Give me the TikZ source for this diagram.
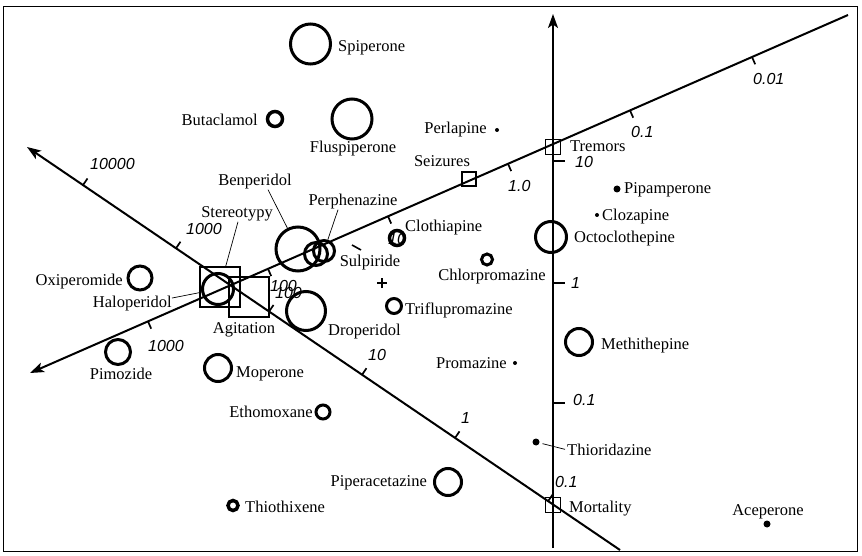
\documentclass[tikz,border=0pt]{standalone}
\usepackage{fontspec}
\setmainfont{Liberation Serif}
\setsansfont{Liberation Sans}
\usetikzlibrary{arrows.meta}
\newcommand\lblfont{\fontsize{16.5}{18}\selectfont}
\newcommand\numfont{\sffamily\itshape\fontsize{16}{18}\selectfont}

\tikzset{
  axisline/.style={line width=2pt},
  axtip/.style={-{Stealth[length=14pt,width=10pt,inset=3.5pt]}},
  tickmark/.style={line width=1.7pt},
  mol/.style={circle,draw,line width=3pt,inner sep=0pt,minimum size=#1},
  thickmol/.style={mol=#1,line width=3.5pt},
  dotmark/.style={circle,fill,inner sep=0pt,minimum size=#1},
  effect/.style={rectangle,draw,line width=1.4pt,inner sep=0pt,minimum size=#1},
  lbl/.style={font=\lblfont,inner sep=0pt,anchor=base west},
  lble/.style={lbl,anchor=base east},
  lblc/.style={lbl,anchor=base},
  num/.style={font=\numfont,inner sep=0pt,anchor=base west},
  leader/.style={line width=0.7pt},
}

\begin{document}
\begin{tikzpicture}[x=1pt,y=-1pt]
\useasboundingbox (0,0) rectangle (862,556);
\fill[white] (0,0) rectangle (862,556);

% frame
\draw[line width=1.6pt] (3.5,6.5) rectangle (857.5,551.5);

% ---------------- axes ----------------
\coordinate (vbot) at (553,548);
\coordinate (vtop) at (553,14);
\coordinate (aend) at (848,15);
\coordinate (atip) at (30,373);
\coordinate (dend) at (620,550);
\coordinate (dtip) at (27,147);

\draw[axisline,axtip] (vbot) -- (vtop);
\draw[axisline,axtip] (aend) -- (atip);
\draw[axisline,axtip] (dend) -- (dtip);

% ticks on the vertical axis
\foreach \y in {161,283,403} \draw[tickmark] (553,\y) -- (565,\y);
\node[num] (v10) at (575,168) {10};
\node[num] (v1) at (571,288) {1};
\node[num] (v01) at (573,405) {0.1};

% ticks on the rising axis
\foreach \x/\y in {752/57.0,630/110.4,508/163.8,388/216.3,268/268.8,148/321.4}
  \draw[tickmark] (\x,\y) -- ++(3.2,7.3);
\node[num] (a001) at (753,85) {0.01};
\node[num] (a01) at (631,138) {0.1};
\node[num] (a1) at (508,192) {1.0};
\node[num] (a100) at (270,291) {100};
\node[num] (a1000) at (148,351) {1000};

% ticks on the falling axis
\foreach \x/\y in {83/185.1,176/248.3,269/311.6,362/374.8,455/438.0,548/501.3}
  \draw[tickmark] (\x,\y) -- ++(4.5,-6.6);
\node[num] (d10000) at (90,170) {10000};
\node[num] (d1000) at (186,234) {1000};
\node[num] (d100) at (275,298) {100};
\node[num] (d10) at (368,360) {10};
\node[num] (d1) at (461,423) {1};
\node[num] (d01) at (555,487) {0.1};

% centre of the plot
\coordinate (origin) at (382,283);
\draw[line width=1.2pt] ([xshift=-5pt]origin) -- ([xshift=5pt]origin);
\draw[line width=1.2pt] ([yshift=-5pt]origin) -- ([yshift=5pt]origin);

% ---------------- side effects ----------------
\node[effect=14pt] (seizures) at (469,179) {};
\node[effect=15pt] (tremors) at (553,147) {};
\node[effect=15pt] (mortality) at (553,505) {};
\node[effect=40pt] (stereotypy) at (220,287) {};
\node[effect=40pt] (agitation) at (249,297) {};

\node[lblc] (lbSeiz) at (442,167) {Seizures};
\node[lbl] (lbTrem) at (570,152) {Tremors};
\node[lbl] (lbMort) at (569,512) {Mortality};
\node[lblc] (lbStereo) at (237,218) {Stereotypy};
\node[lblc] (lbAgit) at (244,333) {Agitation};
\draw[leader] ([xshift=1pt]lbStereo.south) -- (stereotypy);

% ---------------- drugs ----------------
\node[mol=40pt] (spiperone) at (310.5,44) {};
\node[lbl] (lbSpip) at (338,52) {Spiperone};

\node[thickmol=15pt] (butaclamol) at (275,119) {};
\node[lble] (lbButa) at (258,126) {Butaclamol};

\node[mol=40pt] (fluspiperone) at (352,119) {};
\node[lblc] (lbFlus) at (353,153) {Fluspiperone};

\node[dotmark=4pt] (perlapine) at (497,130) {};
\node[lble] (lbPerl) at (487,134) {Perlapine};

\node[dotmark=7pt] (pipamperone) at (617,189) {};
\node[lbl] (lbPipa) at (624,194) {Pipamperone};

\node[dotmark=4pt] (clozapine) at (597,215) {};
\node[lbl] (lbCloz) at (602,221) {Clozapine};

\node[mol=31pt] (octoclothepine) at (551,237) {};
\node[lbl] (lbOcto) at (574,243) {Octoclothepine};

\node[thickmol=15pt] (clothiapine) at (397,238) {};
\node[lbl] (lbCloth) at (405,232) {Clothiapine};
\node[num] (a10) at (388,244) {10};

\node[mol=11pt] (chlorpromazine) at (487,259.5) {};
\node[lblc] (lbChlor) at (492,280) {Chlorpromazine};

\coordinate (sulpA) at (352,245);
\coordinate (sulpB) at (361,250);
\draw[line width=1.6pt] (sulpA) -- (sulpB);
\node[lblc] (lbSulp) at (370,266) {Sulpiride};

\node[mol=15pt] (triflupromazine) at (394,306) {};
\node[lbl] (lbTrif) at (405,314) {Triflupromazine};

\node[mol=44pt] (benperidol) at (298,249) {};
\node[lblc] (lbBenp) at (255,186) {Benperidol};
\draw[leader] ([xshift=13pt]lbBenp.south) -- (benperidol);

\node[mol=23pt] (perphenazineb) at (316,254) {};
\node[mol=21pt] (perphenazine) at (324,251) {};
\node[lblc] (lbPerph) at (353,206) {Perphenazine};
\draw[leader] ([xshift=-15pt]lbPerph.south) -- (perphenazine);

\node[mol=39pt] (droperidol) at (306,311) {};
\node[lbl] (lbDrop) at (328,335) {Droperidol};

\node[mol=31pt] (haloperidol) at (218,289) {};
\node[lble] (lbHalo) at (172,307) {Haloperidol};
\draw[leader] ([yshift=5pt]lbHalo.east) -- (haloperidol);

\node[mol=24pt] (oxiperomide) at (140,278) {};
\node[lble] (lbOxip) at (123,285) {Oxiperomide};

\node[mol=25pt] (pimozide) at (118,352) {};
\node[lblc] (lbPimo) at (121,379) {Pimozide};

\node[mol=27pt] (moperone) at (218,368) {};
\node[lbl] (lbMope) at (236,377) {Moperone};

\node[mol=14pt] (ethomoxane) at (323,412) {};
\node[lble] (lbEtho) at (313,417) {Ethomoxane};

\node[dotmark=4pt] (promazine) at (515,363) {};
\node[lble] (lbProm) at (507,368) {Promazine};

\node[mol=27pt] (methithepine) at (579,342) {};
\node[lbl] (lbMeth) at (601,349) {Methithepine};

\node[dotmark=7pt] (thioridazine) at (536,442) {};
\node[lbl] (lbThio) at (567,455) {Thioridazine};
\draw[leader,shorten <=3pt] (thioridazine) -- ([xshift=-2pt]lbThio.west);

\node[mol=27pt] (piperacetazine) at (448,482) {};
\node[lble] (lbPipe) at (427,486) {Piperacetazine};

\node[thickmol=10pt] (thiothixene) at (233,505.5) {};
\node[lbl] (lbThiot) at (245,512) {Thiothixene};

\node[dotmark=7pt] (aceperone) at (767,524) {};
\node[lblc] (lbAcep) at (768,515) {Aceperone};

\end{tikzpicture}
\end{document}
